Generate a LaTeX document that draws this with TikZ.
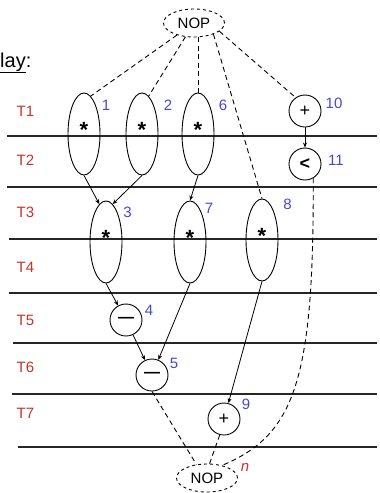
\documentclass[tikz,border=0pt]{standalone}
\usepackage{fontspec}
\setmainfont{Liberation Sans}
\usepackage{tikz}
\usetikzlibrary{shapes.geometric, arrows.meta, positioning}
\definecolor{slotred}{RGB}{198,52,40}
\definecolor{opblue}{RGB}{70,70,212}

\begin{document}
\begin{tikzpicture}[
    x=1pt, y=-1pt,
    font=\fontsize{15}{18}\selectfont,
    oval/.style={ellipse, draw, line width=0.9pt, minimum width=32pt, minimum height=82pt, inner sep=0pt, text depth=9pt, font=\fontsize{22}{22}\selectfont\bfseries},
    op/.style={circle, draw, line width=0.9pt, minimum size=32pt, inner sep=0pt},
    nop/.style={ellipse, draw, dashed, line width=0.9pt, minimum width=61pt, minimum height=28pt, inner sep=0pt},
    slot/.style={text=slotred},
    num/.style={text=opblue, inner sep=0pt},
    arrow/.style={-{Stealth[length=5pt, width=4pt]}, line width=0.8pt},
    dep/.style={line width=0.9pt, dash pattern=on 5pt off 3.5pt},
    rule/.style={line width=1.1pt, black!85}
]
    \useasboundingbox (0,0) rectangle (380,493);

    % Heading
    \node[anchor=base west, inner sep=0pt, font=\fontsize{20}{24}\selectfont] (head) at (0,67) {\underline{lay}:};

    % Time slots
    \foreach \y/\xa in {136/7, 187/7, 239/9, 293/9, 343/13, 394/12, 447/18}
        \draw[rule] (\xa,\y) -- (377,\y);
    \foreach \i/\y in {1/111, 2/160.5, 3/212.5, 4/267.5, 5/320.5, 6/367.5, 7/413.5}
        \node[slot] (t\i) at (25.5,\y) {T\i};

    % Entry and exit
    \node[nop] (top) at (194,23) {NOP};
    \node[nop] (bot) at (207,478) {NOP};
    \node[text=slotred, inner sep=0pt, font=\fontsize{15}{18}\selectfont\itshape] (nn) at (245,467) {n};

    % Multiplies
    \node[oval] (n1) at (84,134) {*};
    \node[oval] (n2) at (142,134) {*};
    \node[oval] (n6) at (198,134) {*};
    \node[oval] (n3) at (106,242) {*};
    \node[oval] (n7) at (190,242) {*};
    \node[oval] (n8) at (262,240) {*};

    % Single cycle ops
    \node[op, font=\fontsize{18}{18}\selectfont] (n10) at (305,111) {+};
    \node[op, font=\fontsize{18}{18}\selectfont\bfseries] (n11) at (305,164) {<};
    \node[op, font=\fontsize{16}{16}\selectfont\bfseries] (n4) at (126,320) {---};
    \node[op, font=\fontsize{16}{16}\selectfont\bfseries] (n5) at (152,375) {---};
    \node[op, font=\fontsize{18}{18}\selectfont] (n9) at (224,419) {+};

    % Numbers
    \node[num] (l1) at (106,105) {1};
    \node[num] (l2) at (168,105) {2};
    \node[num] (l6) at (223,105) {6};
    \node[num] (l10) at (334,103) {10};
    \node[num] (l11) at (336,160.5) {11};
    \node[num] (l3) at (127.5,212.5) {3};
    \node[num] (l7) at (209,208) {7};
    \node[num] (l8) at (287.5,204.5) {8};
    \node[num] (l4) at (149,310.5) {4};
    \node[num] (l5) at (174,363.5) {5};
    \node[num] (l9) at (246,404.5) {9};

    % Dependences
    \draw[arrow] (n1.south) -- (n3.100);
    \draw[arrow] (n2.south) -- (n3.80);
    \draw[arrow] (n6.south) -- (n7.north);
    \draw[arrow] (n10) -- (n11);
    \draw[arrow] (n3.south) -- (n4);
    \draw[arrow] (n4) -- (n5);
    \draw[arrow] (n7.south) -- (n5);
    \draw[arrow] (n8.south) -- (n9);

    % Dummy edges
    \draw[dep] (top) -- (n1.80);
    \draw[dep] (top) -- (n2.80);
    \draw[dep] (top.south -| n6.north) -- (n6.north);
    \draw[dep] (top.-30) -- (n8.north);
    \draw[dep] (top.-18) -- (n10.125);
    \draw[dep] (n5.south) -- (bot.128);
    \draw[dep] (n9.-105) -- (bot.80);
    \draw[dep] (n11.-60) .. controls (314,380) and (295,435) .. (bot.40);
\end{tikzpicture}
\end{document}
